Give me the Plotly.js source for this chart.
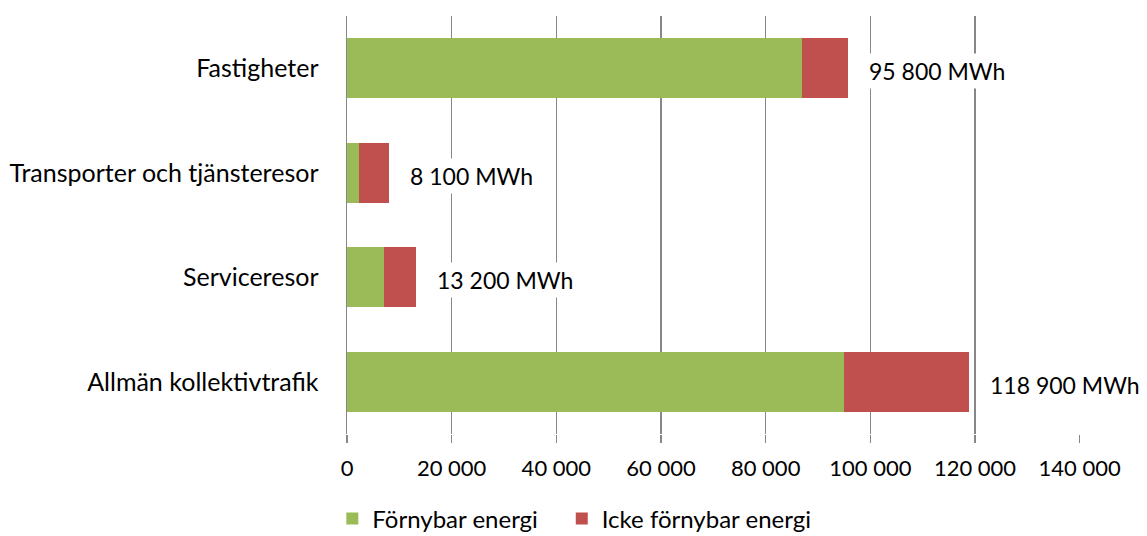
<!DOCTYPE html>
<html>
<head>
<meta charset="utf-8">
<script src="https://cdn.plot.ly/plotly-3.0.1.min.js"></script>
<style>html,body{margin:0;padding:0;background:#fff;}#chart{width:1147px;height:536px;}</style>
</head>
<body>
<div id="chart"></div>
<script>
const categories = ["Fastigheter", "Transporter och tjänsteresor", "Serviceresor", "Allmän kollektivtrafik"];
const renewable = [86900, 2200, 7100, 94900];
const nonRenewable = [8900, 5900, 6100, 24000];
const totalLabels = ["95 800 MWh", "8 100 MWh", "13 200 MWh", "118 900 MWh"];
const tickVals = [0, 20000, 40000, 60000, 80000, 100000, 120000, 140000];
const tickText = ["0", "20 000", "40 000", "60 000", "80 000", "100 000", "120 000", "140 000"];

const font = "Lato, 'Open Sans', sans-serif";
const traces = [
  {type: "bar", orientation: "h", name: "Förnybar energi", y: categories, x: renewable,
   marker: {color: "#9BBB59"}, width: 0.57, hoverinfo: "x+name", legend: "legend"},
  {type: "bar", orientation: "h", name: "Icke förnybar energi", y: categories, x: nonRenewable,
   marker: {color: "#C0504D"}, width: 0.57, hoverinfo: "x+name", legend: "legend2"}
];
const annotations = categories.map((c, i) => ({
  x: renewable[i] + nonRenewable[i], y: c, xref: "x", yref: "y",
  text: totalLabels[i], showarrow: false, xanchor: "left", xshift: 17, yshift: -3,
  bgcolor: "#ffffff", borderpad: 3, font: {family: font, size: 23, color: "#000"}
}));
const legendStyle = (x) => ({orientation: "h", x: x, xanchor: "left", y: -0.203, yanchor: "middle",
  font: {family: font, size: 24, color: "#000"}, itemwidth: 30, bgcolor: "rgba(0,0,0,0)"});
const layout = {
  width: 1147, height: 536,
  margin: {l: 347, r: 67, t: 16, b: 102, autoexpand: false},
  barmode: "stack",
  paper_bgcolor: "#fff", plot_bgcolor: "#fff",
  font: {family: font, size: 22, color: "#000"},
  xaxis: {range: [0, 140060], tickvals: tickVals, ticktext: tickText,
    showgrid: true, gridcolor: "#878787", gridwidth: 1.5, zeroline: false,
    showline: false, ticks: "outside", ticklen: 8, tickcolor: "#878787", tickwidth: 1.5,
    ticklabelstandoff: 7, tickfont: {family: font, size: 22, color: "#000"}, fixedrange: true},
  yaxis: {autorange: "reversed", showgrid: false, zeroline: false,
    showline: true, linecolor: "#878787", linewidth: 1.5, ticks: "",
    ticklabelstandoff: 22, tickfont: {family: font, size: 25, color: "#000"}, fixedrange: true},
  legend: legendStyle(-0.02),
  legend2: legendStyle(0.293),
  annotations: annotations,
  showlegend: true
};
Plotly.newPlot("chart", traces, layout, {displayModeBar: false, staticPlot: true});
</script>
</body>
</html>
